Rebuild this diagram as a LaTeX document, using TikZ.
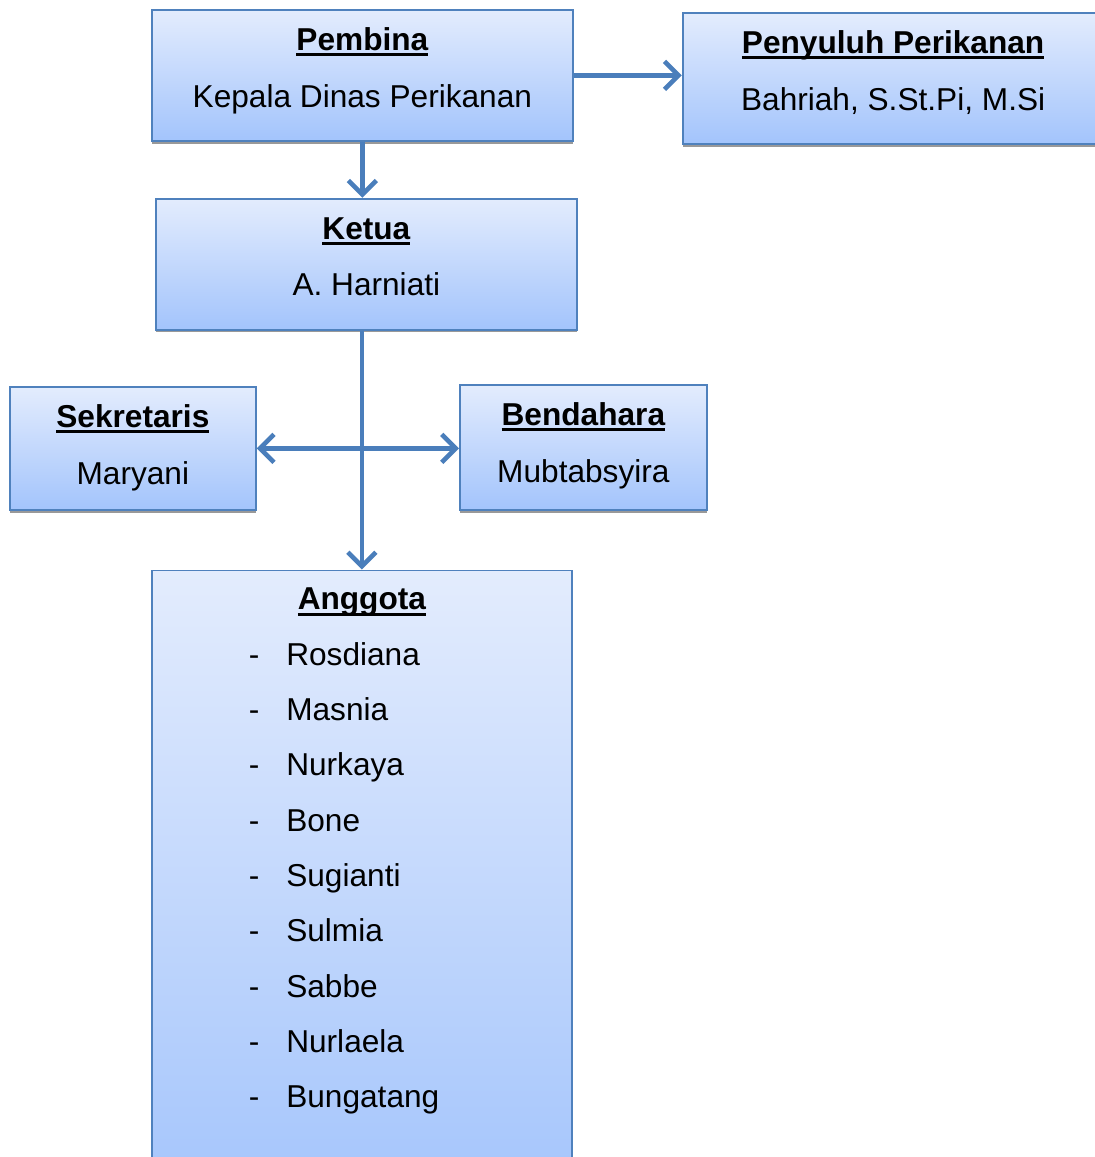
\documentclass[tikz,border=0pt]{standalone}
\usepackage{fontspec}
\setmainfont{Liberation Sans}
\usetikzlibrary{positioning,arrows.meta,shadows}

\definecolor{boxtop}{RGB}{227,236,253}
\definecolor{boxbottom}{RGB}{163,196,252}
\definecolor{boxline}{RGB}{79,129,189}
\definecolor{arrowblue}{RGB}{74,126,187}

\newsavebox{\ttlbox}
\newcommand{\ttl}[1]{\sbox\ttlbox{\bfseries #1}\rlap{\rule[-3.4pt]{\wd\ttlbox}{1.8pt}}\usebox\ttlbox}
\newcommand{\boxtext}[4]{\parbox[c][#2][t]{#1}{\centering\rule{0pt}{23pt}\ttl{#3}\\#4}}
\newcommand{\member}[1]{\leavevmode\llap{-\hspace{15.3pt}}#1\par}

\tikzset{
  orgbox/.style={draw=boxline, line width=1pt, top color=boxtop, bottom color=boxbottom,
    inner sep=0pt, font=\fontsize{18pt}{32.3pt}\selectfont,
    drop shadow={shadow xshift=0pt, shadow yshift=-1.6pt, fill=gray!80, opacity=1}},
  link/.style={draw=arrowblue, line width=2.6pt},
  >={Straight Barb[length=8pt,width=16pt]}
}

\begin{document}
\begin{tikzpicture}
  \clip (0,0) rectangle (21.9,-23.14);
  \node[orgbox, anchor=north west] (pembina) at (3.02,-0.18)
    {\boxtext{8.42cm}{2.62cm}{Pembina}{Kepala Dinas Perikanan}};
  \node[orgbox, right=2.16cm of pembina, yshift=-0.06cm] (penyuluh)
    {\boxtext{8.42cm}{2.62cm}{Penyuluh Perikanan}{Bahriah, S.St.Pi, M.Si}};
  \node[orgbox, below=1.12cm of pembina, xshift=0.08cm] (ketua)
    {\boxtext{8.42cm}{2.62cm}{Ketua}{A. Harniati}};
  \node[orgbox, anchor=north west] (sekretaris) at (0.18,-7.72)
    {\boxtext{4.92cm}{2.46cm}{Sekretaris}{Maryani}};
  \node[orgbox, anchor=north west] (bendahara) at (9.18,-7.68)
    {\boxtext{4.94cm}{2.5cm}{Bendahara}{Mubtabsyira}};
  \node[orgbox, below=4.78cm of ketua, xshift=-0.09cm] (anggota)
    {\parbox[c][12.8cm][t]{8.4cm}{%
      {\centering\rule{0pt}{22.4pt}\ttl{Anggota}\par}
      \leftskip=76.5pt \baselineskip=31.5pt
      \member{Rosdiana}
      \member{Masnia}
      \member{Nurkaya}
      \member{Bone}
      \member{Sugianti}
      \member{Sulmia}
      \member{Sabbe}
      \member{Nurlaela}
      \member{Bungatang}}};

  \draw[link, ->] (pembina.east) -- (pembina.east -| penyuluh.west);
  \draw[link, ->] (pembina.south) -- (pembina.south |- ketua.north);
  \draw[link, ->] (anggota.north |- ketua.south) -- (anggota.north);
  \draw[link, <->] (sekretaris.east) -- (sekretaris.east -| bendahara.west);
\end{tikzpicture}
\end{document}
